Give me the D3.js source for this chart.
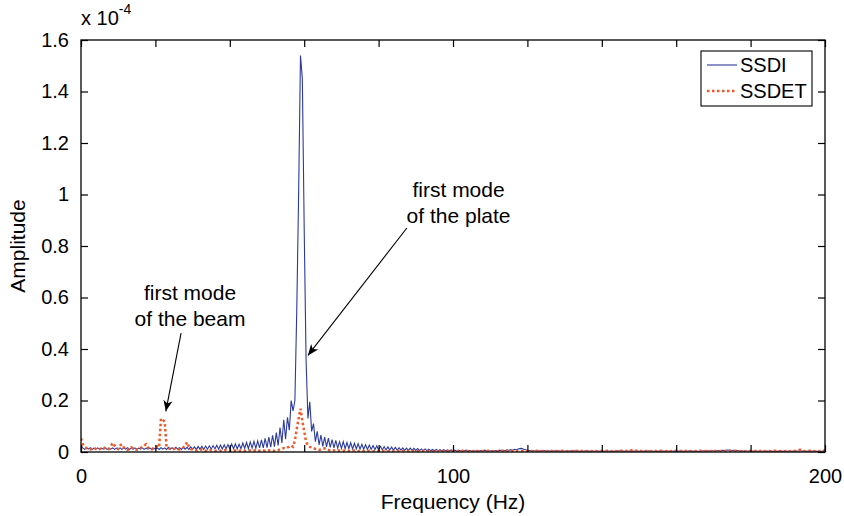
<!DOCTYPE html>
<html>
  <head>
    <meta charset="utf-8" />
    <style>
      body {
        margin: 0;
        background: white;
      }
      svg {
        font-family: 'Liberation Sans', Arial, sans-serif;
      }
      .tick line {
        stroke: black;
        stroke-width: 1.2;
      }
      .tick text {
        font-size: 20px;
        fill: black;
      }
      .domain {
        display: none;
      }
    </style>
  </head>
  <body>
    <script src="https://d3js.org/d3.v7.min.js"></script>
    <script>
      // amplitudes in units of 1e-4, sampled every 0.5 Hz from 0 to 200 Hz
      const df = 0.5;
      const ssdi = [
        0.025,0.015,0.010,0.016,0.011,0.017,0.010,0.015,0.011,0.016,0.010,0.015,0.011,0.016,0.010,0.014,0.011,0.016,0.010,0.015,
        0.011,0.016,0.010,0.015,0.011,0.017,0.010,0.015,0.011,0.016,0.010,0.015,0.011,0.016,0.010,0.015,0.011,0.016,0.010,0.015,
        0.011,0.016,0.010,0.017,0.011,0.016,0.010,0.018,0.011,0.017,0.010,0.018,0.011,0.017,0.010,0.019,0.011,0.018,0.010,0.020,
        0.011,0.020,0.010,0.021,0.011,0.022,0.010,0.023,0.011,0.024,0.011,0.025,0.012,0.026,0.011,0.027,0.012,0.028,0.012,0.029,
        0.012,0.031,0.013,0.032,0.012,0.030,0.013,0.035,0.014,0.037,0.013,0.039,0.015,0.041,0.014,0.043,0.016,0.047,0.016,0.053,
        0.017,0.058,0.019,0.065,0.021,0.075,0.025,0.095,0.035,0.125,0.050,0.135,0.085,0.200,0.160,0.200,0.550,1.000,1.540,1.450,
        0.866,0.360,0.130,0.195,0.080,0.110,0.040,0.080,0.028,0.066,0.022,0.058,0.020,0.054,0.018,0.048,0.016,0.045,0.015,0.040,
        0.014,0.040,0.013,0.037,0.013,0.036,0.012,0.034,0.012,0.032,0.011,0.030,0.011,0.028,0.010,0.027,0.010,0.025,0.009,0.024,
        0.009,0.022,0.008,0.021,0.008,0.020,0.008,0.019,0.007,0.018,0.007,0.017,0.007,0.016,0.006,0.015,0.006,0.015,0.006,0.014,
        0.006,0.013,0.005,0.012,0.005,0.012,0.005,0.011,0.005,0.010,0.005,0.010,0.004,0.009,0.004,0.009,0.004,0.008,0.004,0.008,
        0.004,0.007,0.004,0.007,0.004,0.006,0.004,0.007,0.004,0.006,0.004,0.006,0.004,0.006,0.004,0.006,0.004,0.007,0.004,0.006,
        0.004,0.006,0.004,0.006,0.004,0.007,0.005,0.007,0.005,0.008,0.006,0.009,0.007,0.010,0.008,0.012,0.013,0.014,0.011,0.009,
        0.007,0.006,0.005,0.006,0.004,0.006,0.004,0.005,0.004,0.006,0.004,0.005,0.004,0.006,0.004,0.005,0.004,0.005,0.003,0.005,
        0.003,0.005,0.004,0.005,0.003,0.005,0.004,0.005,0.003,0.004,0.003,0.005,0.003,0.004,0.003,0.005,0.003,0.004,0.003,0.004,
        0.003,0.004,0.003,0.005,0.003,0.004,0.003,0.004,0.003,0.005,0.004,0.005,0.003,0.004,0.003,0.004,0.003,0.004,0.003,0.004,
        0.003,0.004,0.003,0.004,0.003,0.005,0.003,0.004,0.003,0.004,0.003,0.004,0.003,0.004,0.003,0.005,0.003,0.004,0.003,0.004,
        0.003,0.004,0.003,0.004,0.003,0.004,0.003,0.005,0.003,0.004,0.003,0.004,0.003,0.004,0.004,0.005,0.004,0.005,0.004,0.006,
        0.004,0.006,0.005,0.006,0.005,0.007,0.006,0.008,0.007,0.008,0.006,0.007,0.005,0.006,0.004,0.005,0.004,0.005,0.003,0.004,
        0.003,0.004,0.003,0.004,0.003,0.004,0.003,0.004,0.003,0.004,0.003,0.004,0.003,0.004,0.003,0.004,0.003,0.004,0.003,0.004,
        0.003,0.004,0.003,0.004,0.003,0.004,0.003,0.005,0.003,0.004,0.003,0.004,0.003,0.004,0.003,0.004,0.003,0.004,0.003,0.004,
        0.004
      ];
      const ssdet = [
        0.053,0.030,0.020,0.015,0.012,0.010,0.012,0.016,0.012,0.009,0.011,0.015,0.018,0.014,0.010,0.012,0.022,0.035,0.025,0.015,
        0.012,0.025,0.030,0.018,0.010,0.008,0.012,0.018,0.014,0.010,0.009,0.012,0.016,0.020,0.025,0.030,0.018,0.012,0.010,0.015,
        0.020,0.022,0.018,0.130,0.125,0.118,0.020,0.015,0.012,0.010,0.012,0.014,0.012,0.010,0.012,0.018,0.025,0.038,0.020,0.012,
        0.010,0.008,0.006,0.005,0.007,0.010,0.008,0.005,0.004,0.005,0.008,0.006,0.004,0.005,0.007,0.005,0.004,0.006,0.008,0.005,
        0.004,0.005,0.007,0.005,0.003,0.004,0.006,0.005,0.004,0.005,0.007,0.006,0.004,0.005,0.008,0.006,0.005,0.004,0.006,0.005,
        0.004,0.006,0.008,0.006,0.004,0.005,0.007,0.010,0.012,0.015,0.014,0.018,0.020,0.025,0.020,0.045,0.090,0.130,0.168,0.120,
        0.080,0.040,0.025,0.020,0.018,0.015,0.012,0.010,0.008,0.010,0.012,0.014,0.010,0.008,0.006,0.005,0.006,0.008,0.007,0.005,
        0.004,0.005,0.006,0.005,0.004,0.003,0.005,0.006,0.004,0.003,0.004,0.005,0.004,0.003,0.004,0.005,0.004,0.003,0.004,0.005,
        0.004,0.003,0.004,0.005,0.004,0.003,0.004,0.004,0.003,0.004,0.005,0.004,0.003,0.004,0.004,0.003,0.004,0.005,0.004,0.003,
        0.004,0.004,0.003,0.004,0.005,0.004,0.003,0.004,0.004,0.003,0.004,0.005,0.004,0.003,0.004,0.004,0.003,0.004,0.005,0.004,
        0.003,0.004,0.004,0.003,0.004,0.005,0.004,0.003,0.004,0.004,0.003,0.004,0.005,0.004,0.003,0.004,0.004,0.003,0.004,0.005,
        0.004,0.003,0.004,0.004,0.003,0.004,0.005,0.004,0.003,0.004,0.004,0.003,0.004,0.005,0.004,0.003,0.004,0.004,0.003,0.004,
        0.003,0.004,0.004,0.003,0.004,0.005,0.004,0.003,0.004,0.004,0.003,0.004,0.005,0.004,0.003,0.004,0.004,0.003,0.004,0.005,
        0.004,0.003,0.004,0.004,0.003,0.004,0.005,0.004,0.003,0.004,0.004,0.003,0.004,0.005,0.004,0.003,0.004,0.004,0.003,0.004,
        0.004,0.003,0.004,0.005,0.004,0.003,0.004,0.004,0.003,0.004,0.005,0.004,0.003,0.004,0.004,0.005,0.007,0.008,0.006,0.004,
        0.003,0.004,0.004,0.003,0.004,0.005,0.004,0.003,0.004,0.004,0.003,0.004,0.005,0.004,0.003,0.004,0.004,0.003,0.004,0.005,
        0.004,0.003,0.004,0.004,0.003,0.004,0.005,0.004,0.003,0.004,0.004,0.003,0.004,0.005,0.004,0.003,0.004,0.004,0.003,0.004,
        0.003,0.004,0.004,0.003,0.004,0.005,0.004,0.003,0.004,0.004,0.003,0.004,0.005,0.004,0.003,0.004,0.004,0.003,0.004,0.005,
        0.004,0.003,0.004,0.004,0.003,0.004,0.005,0.004,0.003,0.004,0.004,0.003,0.004,0.005,0.004,0.003,0.004,0.004,0.003,0.004,
        0.004,0.003,0.004,0.005,0.004,0.006,0.008,0.009,0.006,0.004,0.003,0.004,0.005,0.004,0.003,0.004,0.004,0.003,0.004,0.005,
        0.006
      ];
      const seriesNames = ['SSDI', 'SSDET'];
      const xTicks = [0, 20, 40, 60, 80, 100, 120, 140, 160, 180, 200];
      const xTickLabels = ['0', '', '', '', '', '100', '', '', '', '', '200'];
      const yTicks = [0, 0.2, 0.4, 0.6, 0.8, 1, 1.2, 1.4, 1.6];
      const yTickLabels = ['0', '0.2', '0.4', '0.6', '0.8', '1', '1.2', '1.4', '1.6'];

      // annotations in data units (Hz, 1e-4)
      const notes = [
        { lines: ['first mode', 'of the beam'], x: 29.3, y: 0.59, from: [26.9, 0.462], to: [22.8, 0.158] },
        { lines: ['first mode', 'of the plate'], x: 101.5, y: 0.99, from: [87.6, 0.87], to: [61.0, 0.375] },
      ];

      const W = 844;
      const H = 516;
      const margin = { top: 40, right: 19, bottom: 64, left: 81 };

      const svg = d3.select('body').append('svg').attr('width', W).attr('height', H);

      const x = d3.scaleLinear().domain([0, 200]).range([margin.left, W - margin.right]);
      const y = d3.scaleLinear().domain([0, 1.6]).range([H - margin.bottom, margin.top]);

      const freqs = ssdi.map((_, i) => i * df);

      svg
        .append('defs')
        .append('marker')
        .attr('id', 'head')
        .attr('markerUnits', 'userSpaceOnUse')
        .attr('viewBox', '-12 -6 14 12')
        .attr('markerWidth', 14)
        .attr('markerHeight', 12)
        .attr('refX', 0)
        .attr('refY', 0)
        .attr('orient', 'auto')
        .append('path')
        .attr('d', 'M0,0 L-11,-4.5 L-8,0 L-11,4.5 Z')
        .attr('fill', 'black');

      svg
        .append('clipPath')
        .attr('id', 'plot-clip')
        .append('rect')
        .attr('x', margin.left)
        .attr('y', margin.top - 2)
        .attr('width', W - margin.left - margin.right)
        .attr('height', H - margin.top - margin.bottom + 2);

      const line = d3
        .line()
        .x((d, i) => x(freqs[i]))
        .y((d) => y(d));

      const plot = svg.append('g').attr('clip-path', 'url(#plot-clip)');

      plot
        .append('path')
        .attr('d', line(ssdi))
        .attr('fill', 'none')
        .attr('stroke', '#2b3a9c')
        .attr('stroke-width', 1.1);

      plot
        .append('path')
        .attr('d', line(ssdet))
        .attr('fill', 'none')
        .attr('stroke', '#f0582a')
        .attr('stroke-width', 2.5)
        .attr('stroke-dasharray', '2.5,2.5');

      // axes, ticks pointing inward on all four sides
      svg
        .append('g')
        .attr('transform', `translate(0,${y(0)})`)
        .call(
          d3.axisBottom(x).tickValues(xTicks).tickFormat((d, i) => xTickLabels[i]).tickSizeInner(-7).tickSizeOuter(0).tickPadding(17)
        );
      svg
        .append('g')
        .attr('transform', `translate(0,${y(1.6)})`)
        .call(d3.axisTop(x).tickValues(xTicks).tickFormat('').tickSizeInner(-7).tickSizeOuter(0));
      svg
        .append('g')
        .attr('transform', `translate(${x(0)},0)`)
        .call(
          d3.axisLeft(y).tickValues(yTicks).tickFormat((d, i) => yTickLabels[i]).tickSizeInner(-7).tickSizeOuter(0).tickPadding(12)
        );
      svg
        .append('g')
        .attr('transform', `translate(${x(200)},0)`)
        .call(d3.axisRight(y).tickValues(yTicks).tickFormat('').tickSizeInner(-7).tickSizeOuter(0));

      svg
        .append('rect')
        .attr('x', x(0))
        .attr('y', y(1.6))
        .attr('width', x(200) - x(0))
        .attr('height', y(0) - y(1.6))
        .attr('fill', 'none')
        .attr('stroke', 'black')
        .attr('stroke-width', 1.3);

      // exponent label
      const expo = svg.append('text').attr('x', x(0)).attr('y', 25).attr('font-size', 20);
      expo.append('tspan').text('x 10');
      expo.append('tspan').attr('dy', -11).attr('font-size', 14).text('-4');

      svg
        .append('text')
        .attr('x', (x(0) + x(200)) / 2)
        .attr('y', 509)
        .attr('text-anchor', 'middle')
        .attr('font-size', 21)
        .text('Frequency (Hz)');

      svg
        .append('text')
        .attr('transform', `translate(25,${(y(0) + y(1.6)) / 2}) rotate(-90)`)
        .attr('text-anchor', 'middle')
        .attr('font-size', 21)
        .text('Amplitude');

      // annotations
      notes.forEach((n) => {
        svg
          .append('line')
          .attr('x1', x(n.from[0]))
          .attr('y1', y(n.from[1]))
          .attr('x2', x(n.to[0]))
          .attr('y2', y(n.to[1]))
          .attr('stroke', 'black')
          .attr('stroke-width', 1.1)
          .attr('marker-end', 'url(#head)');
        svg
          .append('g')
          .selectAll('text')
          .data(n.lines)
          .join('text')
          .attr('x', x(n.x))
          .attr('y', (d, i) => y(n.y) + i * 26)
          .attr('text-anchor', 'middle')
          .attr('font-size', 21)
          .text((d) => d);
      });

      // legend
      const legend = svg.append('g').attr('transform', 'translate(701,51)');
      legend
        .append('rect')
        .attr('width', 111)
        .attr('height', 55)
        .attr('fill', 'white')
        .attr('stroke', 'black')
        .attr('stroke-width', 1.1);
      const rows = legend
        .selectAll('.row')
        .data(seriesNames)
        .join('g')
        .attr('class', 'row')
        .attr('transform', (d, i) => `translate(0,${14 + i * 26})`);
      rows
        .append('line')
        .attr('x1', 6)
        .attr('x2', 36)
        .attr('stroke', (d, i) => (i === 0 ? '#2b3a9c' : '#f0582a'))
        .attr('stroke-width', (d, i) => (i === 0 ? 1.1 : 2.5))
        .attr('stroke-dasharray', (d, i) => (i === 0 ? null : '2.5,2.5'));
      rows
        .append('text')
        .attr('x', 39)
        .attr('y', 7)
        .attr('font-size', 20)
        .text((d) => d);
    </script>
  </body>
</html>
